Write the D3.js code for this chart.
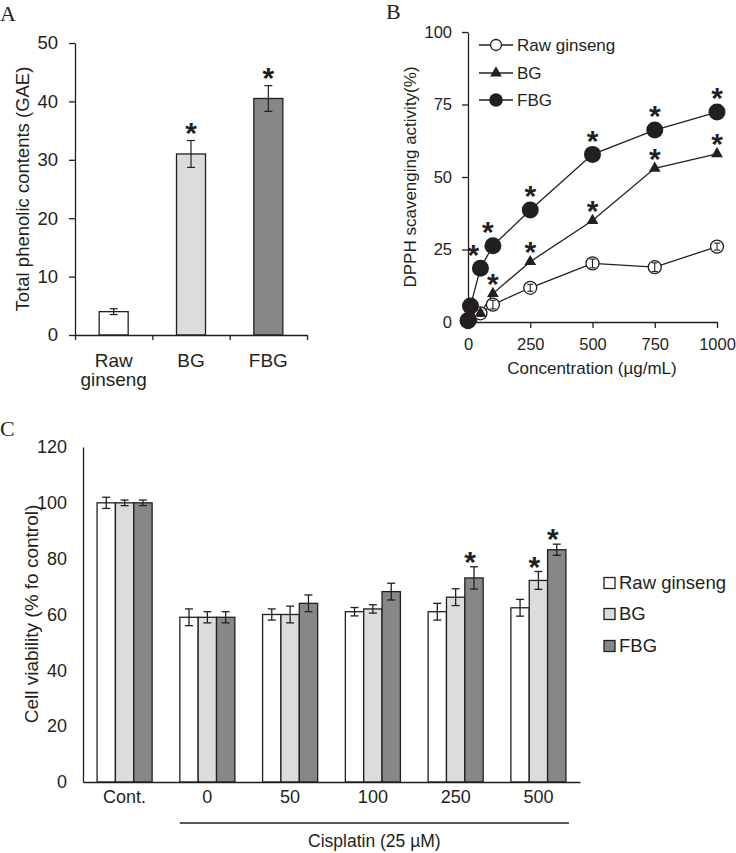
<!DOCTYPE html>
<html><head><meta charset="utf-8">
<script src="https://cdn.jsdelivr.net/npm/d3@7"></script>
<style>
body{margin:0;background:#fff}
svg{display:block}
text{font-family:"Liberation Sans",Arial,sans-serif;fill:#231f20}
.panel{font-family:"Liberation Serif","Times New Roman",serif;font-size:22px}
</style>
</head><body>
<svg width="736" height="853"></svg>
<script>
// ---------- Panel A data ----------
const aCategories = ["Raw ginseng", "BG", "FBG"];
const aValues = [4, 31, 40.5];
const aErrors = [0.5, 2.3, 2.2];
const aStars = ["BG", "FBG"];
const aTicks = [0, 10, 20, 30, 40, 50];

// ---------- Panel B data ----------
const bConcentrations = [0, 10, 50, 100, 250, 500, 750, 1000];
const bRaw = [0, 1, 3, 6, 11.8, 20.2, 18.9, 26];
const bRawErr = [0.5, 0.5, 1, 1.5, 1.2, 1.5, 1.5, 1.2];
const bBG = [0, 1, 3, 9.8, 20.8, 35, 53, 58];
const bFBG = [0.5, 5.5, 18.5, 26.3, 38.6, 57.8, 66.2, 72.4];
const bBGStars = [100, 250, 500, 750, 1000];
const bFBGStars = [50, 100, 250, 500, 750, 1000];
const bXTicks = [0, 250, 500, 750, 1000];
const bYTicks = [0, 25, 50, 75, 100];
const bSeriesNames = ["Raw ginseng", "BG", "FBG"];

// ---------- Panel C data ----------
const cGroups = ["Cont.", "0", "50", "100", "250", "500"];
const cSeries = ["Raw ginseng", "BG", "FBG"];
const cRaw = [100, 59, 60, 61, 61, 62.4];
const cRawErr = [2, 3, 2, 1.5, 3, 3];
const cBG = [100, 59, 60, 62, 66.2, 72.2];
const cBGErr = [1, 2, 3, 1.5, 3, 3.2];
const cFBG = [100, 59, 64, 68.2, 73.1, 83.2];
const cFBGErr = [1, 2, 3, 3, 4, 2];
const cStars = [["250", "FBG"], ["500", "BG"], ["500", "FBG"]];
const cYTicks = [0, 20, 40, 60, 80, 100, 120];

// ---------- common ----------
const INK = "#231f20";
const FILL = {"Raw ginseng": "#ffffff", "BG": "#dcdcdc", "FBG": "#878787"};
const STAR = 30;
const svg = d3.select("svg");

function styleAxis(g, size) {
  g.attr("font-family", null).attr("font-size", null);
  g.selectAll("text").style("font-size", size + "px").attr("fill", INK);
  g.selectAll("path,line").attr("stroke", INK).attr("stroke-width", 1.3);
}
function star(g, x, cy) {
  g.append("text").attr("x", x).attr("y", cy + 0.575 * STAR)
    .attr("text-anchor", "middle").style("font-size", STAR + "px")
    .style("font-weight", "bold").text("*");
}
function errBar(g, x, y1, y2, w) {
  g.append("line").attr("x1", x).attr("x2", x).attr("y1", y1).attr("y2", y2);
  g.append("line").attr("x1", x - w / 2).attr("x2", x + w / 2).attr("y1", y1).attr("y2", y1);
  g.append("line").attr("x1", x - w / 2).attr("x2", x + w / 2).attr("y1", y2).attr("y2", y2);
}

// ================= Panel A =================
{
  const g = svg.append("g");
  g.append("text").attr("class", "panel").attr("x", 0).attr("y", 21).text("A");
  const x = d3.scaleBand().domain(aCategories).range([75, 307]).paddingInner(0.625).paddingOuter(0.3125);
  const y = d3.scaleLinear().domain([0, 50]).range([335, 43]);
  const xb = d3.scaleLinear().domain([0, aCategories.length]).range(x.range());

  g.append("g").selectAll("rect").data(aCategories).join("rect")
    .attr("x", d => x(d)).attr("width", x.bandwidth())
    .attr("y", (d, i) => y(aValues[i])).attr("height", (d, i) => y(0) - y(aValues[i]))
    .attr("fill", d => FILL[d]).attr("stroke", INK).attr("stroke-width", 1.3);
  const eg = g.append("g").attr("stroke", INK).attr("stroke-width", 1.2);
  aCategories.forEach((c, i) => errBar(eg, x(c) + x.bandwidth() / 2, y(aValues[i] + aErrors[i]), y(aValues[i] - aErrors[i]), 8));
  aStars.forEach(c => { const i = aCategories.indexOf(c); star(g, x(c) + x.bandwidth() / 2, y(aValues[i] + aErrors[i]) - 15); });

  const ya = g.append("g").attr("transform", "translate(75,0)")
    .call(d3.axisLeft(y).tickValues(aTicks).tickSize(6).tickPadding(11).tickSizeOuter(0));
  styleAxis(ya, 18.5);
  const xa = g.append("g").attr("transform", "translate(0,335)")
    .call(d3.axisBottom(xb).tickValues(d3.range(aCategories.length + 1)).tickFormat("").tickSize(5).tickSizeOuter(0));
  styleAxis(xa, 18);

  aCategories.forEach(c => {
    const t = g.append("text").attr("text-anchor", "middle").style("font-size", "19px");
    c.split(" ").forEach((w, k) => t.append("tspan").attr("x", x(c) + x.bandwidth() / 2).attr("y", 367 + k * 19).text(w));
  });
  g.append("text").attr("transform", "translate(29,189) rotate(-90)").attr("text-anchor", "middle")
    .style("font-size", "18.5px").text("Total phenolic contents (GAE)");
}

// ================= Panel B =================
{
  const g = svg.append("g");
  g.append("text").attr("class", "panel").attr("x", 386).attr("y", 19).text("B");
  const x = d3.scaleLinear().domain([0, 1000]).range([468, 717]);
  const y = d3.scaleLinear().domain([0, 100]).range([322, 32]);

  const ya = g.append("g").attr("transform", "translate(468,0)")
    .call(d3.axisLeft(y).tickValues(bYTicks).tickSize(6).tickPadding(10).tickSizeOuter(0));
  styleAxis(ya, 16.5);
  const xa = g.append("g").attr("transform", "translate(0,322)")
    .call(d3.axisBottom(x).tickValues(bXTicks).tickFormat(d3.format("d")).tickSize(6).tickPadding(10).tickSizeOuter(0));
  styleAxis(xa, 16.5);

  const series = [
    {name: "Raw ginseng", vals: bRaw},
    {name: "BG", vals: bBG},
    {name: "FBG", vals: bFBG}
  ];
  const line = d3.line().x((d, i) => x(bConcentrations[i])).y(d => y(d));
  series.forEach(s => {
    g.append("path").datum(s.vals).attr("d", line).attr("fill", "none").attr("stroke", INK).attr("stroke-width", 1.3);
  });
  function marker(gg, name, cx, cy, scale) {
    if (name === "Raw ginseng") {
      gg.append("circle").attr("cx", cx).attr("cy", cy).attr("r", 6.5 * scale).attr("fill", "#fff").attr("stroke", INK).attr("stroke-width", 1.3);
    } else if (name === "BG") {
      gg.append("path").attr("d", d3.symbol().type(d3.symbolTriangle).size(60 * scale * scale)()).attr("transform", `translate(${cx},${cy})`).attr("fill", INK);
    } else {
      gg.append("circle").attr("cx", cx).attr("cy", cy).attr("r", 8.5 * scale).attr("fill", INK);
    }
  }
  bConcentrations.forEach((c, i) => marker(g, "Raw ginseng", x(c), y(bRaw[i]), 1));
  const eg = g.append("g").attr("stroke", INK).attr("stroke-width", 1.1);
  bConcentrations.forEach((c, i) => errBar(eg, x(c), y(bRaw[i] + bRawErr[i]), y(bRaw[i] - bRawErr[i]), 6));
  bConcentrations.forEach((c, i) => marker(g, "BG", x(c), y(bBG[i]), 1));
  bConcentrations.forEach((c, i) => marker(g, "FBG", x(c), y(bFBG[i]), 1));

  bFBGStars.forEach(c => {
    const i = bConcentrations.indexOf(c);
    const dx = c === 50 ? -7 : (c === 100 ? -5 : 0);
    star(g, x(c) + dx, y(bFBG[i]) - 21);
  });
  bBGStars.forEach(c => {
    const i = bConcentrations.indexOf(c);
    star(g, x(c), y(bBG[i]) - 17);
  });

  const ly = [45, 73, 100];
  bSeriesNames.forEach((n, k) => {
    g.append("line").attr("x1", 479).attr("x2", 513).attr("y1", ly[k]).attr("y2", ly[k]).attr("stroke", INK).attr("stroke-width", 1.3);
    marker(g, n, 496, ly[k], n === "FBG" ? 0.8 : (n === "BG" ? 1 : 0.85));
    g.append("text").attr("x", 517).attr("y", ly[k]).attr("dy", "0.35em").style("font-size", "17px").text(n);
  });

  g.append("text").attr("x", 592).attr("y", 374).attr("text-anchor", "middle").style("font-size", "17px").text("Concentration (µg/mL)");
  g.append("text").attr("transform", "translate(416,177) rotate(-90)").attr("text-anchor", "middle")
    .style("font-size", "17px").text("DPPH scavenging activity(%)");
}

// ================= Panel C =================
{
  const g = svg.append("g");
  g.append("text").attr("class", "panel").attr("x", 0).attr("y", 436).text("C");
  const x = d3.scaleBand().domain(cGroups).range([83, 580]).paddingInner(0.335).paddingOuter(0.17);
  const xs = d3.scaleBand().domain(cSeries).range([0, x.bandwidth()]);
  const y = d3.scaleLinear().domain([0, 120]).range([782, 447]);
  const vals = {"Raw ginseng": cRaw, "BG": cBG, "FBG": cFBG};
  const errs = {"Raw ginseng": cRawErr, "BG": cBGErr, "FBG": cFBGErr};

  const ya = g.append("g").attr("transform", "translate(83,0)")
    .call(d3.axisLeft(y).tickValues(cYTicks).tickSize(0).tickPadding(16).tickSizeOuter(0));
  styleAxis(ya, 18);

  cGroups.forEach((grp, i) => {
    cSeries.forEach(s => {
      g.append("rect").attr("x", x(grp) + xs(s)).attr("width", xs.bandwidth())
        .attr("y", y(vals[s][i])).attr("height", y(0) - y(vals[s][i]))
        .attr("fill", FILL[s]).attr("stroke", INK).attr("stroke-width", 1.3);
    });
  });
  const eg = g.append("g").attr("stroke", INK).attr("stroke-width", 1.3);
  cGroups.forEach((grp, i) => {
    cSeries.forEach(s => {
      const cx = x(grp) + xs(s) + xs.bandwidth() / 2;
      errBar(eg, cx, y(vals[s][i] + errs[s][i]), y(vals[s][i] - errs[s][i]), 8);
    });
  });
  cStars.forEach(([grp, s]) => {
    const i = cGroups.indexOf(grp);
    star(g, x(grp) + xs(s) + xs.bandwidth() / 2 - 4, y(vals[s][i] + errs[s][i]) - 12);
  });

  const xa = g.append("g").attr("transform", "translate(0,782)")
    .call(d3.axisBottom(x).tickSize(0).tickPadding(8).tickSizeOuter(0));
  styleAxis(xa, 18);
  xa.select(".domain").attr("stroke-width", 1.5);

  const x0 = x("0"), x1 = x("500") + x.bandwidth() + 3;
  g.append("line").attr("x1", x0).attr("x2", x1).attr("y1", 823).attr("y2", 823).attr("stroke", INK).attr("stroke-width", 1.5);
  g.append("text").attr("x", (x0 + x1) / 2).attr("y", 847).attr("text-anchor", "middle").style("font-size", "17.5px").text("Cisplatin (25 µM)");

  g.append("text").attr("transform", "translate(38,614) rotate(-90)").attr("text-anchor", "middle")
    .style("font-size", "19px").text("Cell viability (% fo control)");

  const ly = [583, 614, 646];
  cSeries.forEach((s, k) => {
    g.append("rect").attr("x", 604).attr("y", ly[k] - 5.5).attr("width", 11).attr("height", 11)
      .attr("fill", FILL[s]).attr("stroke", INK).attr("stroke-width", 1.3);
    g.append("text").attr("x", 619).attr("y", ly[k]).attr("dy", "0.35em").style("font-size", "18.5px").text(s);
  });
}
</script>
</body></html>
